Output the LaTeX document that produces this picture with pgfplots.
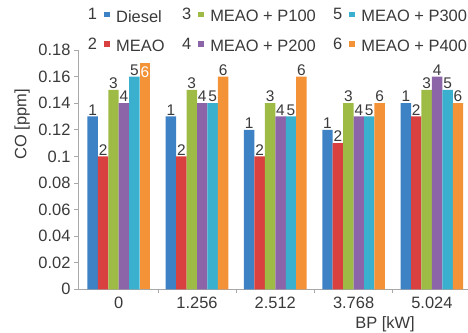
\documentclass[border=0pt]{standalone}
\usepackage{fontspec}
\setmainfont{Liberation Sans}
\usepackage{pgfplots}
\pgfplotsset{compat=1.18}
\definecolor{cA}{HTML}{3C82C4}
\definecolor{cB}{HTML}{D8413F}
\definecolor{cC}{HTML}{9EBB46}
\definecolor{cD}{HTML}{8C65A8}
\definecolor{cE}{HTML}{3BB0CE}
\definecolor{cF}{HTML}{F39237}
\definecolor{txt}{HTML}{3A3A3A}
\definecolor{axc}{HTML}{A8A8A8}
\newcommand{\fs}{\fontsize{16.5}{19}\selectfont}
\newcommand{\fl}{\fontsize{15.5}{18}\selectfont}
\pgfplotsset{
  legnum/.style 2 args={legend image code/.code={%
    \node[anchor=base west,inner sep=0pt,text=txt,font=\fs] at (0,-0.3em)
      {#1\kern0.42em\textcolor{#2}{\rule[0.14em]{0.35em}{0.35em}}\kern0.3em\null};}},
  barlab/.style={nodes near coords={#1},
    every node near coord/.append style={font=\fl,text=txt,inner sep=1pt}}
}
\begin{document}
\begin{tikzpicture}
\path[use as bounding box] (0,0) rectangle (468bp,333bp);
\begin{axis}[
  at={(78bp,43.7bp)}, anchor=south west,
  scale only axis, width=390.7bp, height=239.3bp,
  xmin=-0.52, xmax=4.47, ymin=0, ymax=0.18,
  axis lines*=left,
  axis line style={draw=axc, line width=0.6pt},
  ybar=0pt, bar width=0.1333,
  xtick={0,1,2,3,4}, xticklabels={0,1.256,2.512,3.768,5.024},
  minor xtick={0.5,1.5,2.5,3.5},
  major x tick style={draw=none},
  minor x tick style={draw=axc, line width=0.6pt},
  ytick={0,0.02,0.04,0.06,0.08,0.1,0.12,0.14,0.16,0.18},
  y tick style={draw=axc, line width=0.6pt},
  tick align=outside, major tick length=4bp, minor tick length=4bp,
  /pgf/number format/assume math mode=true,
  y tick label style={/pgf/number format/fixed, /pgf/number format/precision=2},
  tick label style={font=\fs, text=txt},
  ylabel={CO [ppm]},
  ylabel style={at={(axis description cs:-0.143,0.69)}, anchor=center, font=\fs, text=txt},
  xlabel={BP [kW]},
  xlabel style={at={(axis description cs:0.786,-0.147)}, anchor=center, font=\fs, text=txt},
  legend columns=2, transpose legend, legend cell align=left,
  legend style={at={(axis description cs:1.0,1.175)}, anchor=north east,
    draw=none, fill=none, inner sep=0pt, font=\fs, text=txt,
    nodes={inner sep=1.5pt},
    row sep=13pt,
    /tikz/every even column/.append style={column sep=16pt}},
  clip=false,
]
\addplot[fill=cA, draw=none, bar shift=-0.3333, legnum={1}{cA}, barlab=1]
  coordinates {(0,0.13) (1,0.13) (2,0.12) (3,0.12) (4,0.14)};
\addlegendentry{Diesel}
\addplot[fill=cB, draw=none, bar shift=-0.2, legnum={2}{cB}, barlab=2]
  coordinates {(0,0.10) (1,0.10) (2,0.10) (3,0.11) (4,0.13)};
\addlegendentry{MEAO}
\addplot[fill=cC, draw=none, bar shift=-0.0667, legnum={3}{cC}, barlab=3]
  coordinates {(0,0.15) (1,0.15) (2,0.14) (3,0.14) (4,0.15)};
\addlegendentry{MEAO + P100}
\addplot[fill=cD, draw=none, bar shift=0.0667, legnum={4}{cD}, barlab=4]
  coordinates {(0,0.14) (1,0.14) (2,0.13) (3,0.13) (4,0.16)};
\addlegendentry{MEAO + P200}
\addplot[fill=cE, draw=none, bar shift=0.2, legnum={5}{cE}, barlab=5]
  coordinates {(0,0.16) (1,0.14) (2,0.13) (3,0.13) (4,0.15)};
\addlegendentry{MEAO + P300}
\addplot[fill=cF, draw=none, bar shift=0.3333, legnum={6}{cF}, barlab=6]
  coordinates {(1,0.16) (2,0.16) (3,0.14) (4,0.14)};
\addlegendentry{MEAO + P400}
\addplot[fill=cF, draw=none, bar shift=0.3333, forget plot,
  nodes near coords={6},
  every node near coord/.append style={font=\fl,text=white,inner sep=1pt,yshift=-16pt}]
  coordinates {(0,0.17)};
\end{axis}
\end{tikzpicture}
\end{document}
